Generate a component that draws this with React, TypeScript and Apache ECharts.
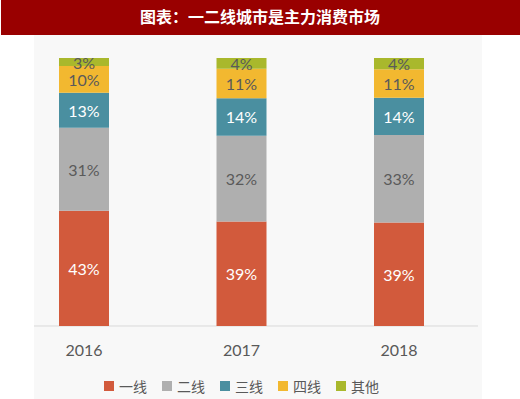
import React, { useEffect, useRef } from "react";
import * as echarts from "echarts";

const title = "图表：一二线城市是主力消费市场";
const years = ["2016", "2017", "2018"];
const seriesNames = ["一线", "二线", "三线", "四线", "其他"];
const tier1 = [43, 39, 38.6];
const tier2 = [31, 32, 32.7];
const tier3 = [13, 14, 13.9];
const tier4 = [10, 11, 10.6];
const others = [3, 4, 4.2];
const seriesValues = [tier1, tier2, tier3, tier4, others];
const colors = ["#D25A3C", "#AFAFAF", "#4A8FA0", "#F2B830", "#A9B82C"];
const labelColors = ["#ffffff", "#5a5a5a", "#ffffff", "#5a5a5a", "#5a5a5a"];

export default function App() {
  const ref = useRef<HTMLDivElement>(null);
  useEffect(() => {
    if (!ref.current) return;
    const chart = echarts.init(ref.current, undefined, { renderer: "svg" });
    chart.setOption({
      animation: false,
      backgroundColor: "#ffffff",
      graphic: [
        { type: "rect", left: 34, top: 35, shape: { width: 448, height: 364 }, style: { fill: "#f8f8f8" }, z: -10 },
        { type: "rect", left: 1, top: 0, shape: { width: 519, height: 35 }, style: { fill: "#990000" }, z: -5 },
        {
          type: "text",
          left: "center",
          top: 8,
          style: {
            text: title,
            fill: "#ffffff",
            font: "bold 16px 'Noto Sans CJK SC'",
          },
        },
        {
          type: "line",
          shape: { x1: 34, y1: 326, x2: 478, y2: 326 },
          style: { stroke: "#d9d9d9", lineWidth: 1 },
        },
      ],
      grid: { left: 5.25, width: 472.5, top: 58, bottom: 73, containLabel: false },
      xAxis: {
        type: "category",
        data: years,
        axisLine: { show: false },
        axisTick: { show: false },
        axisLabel: { color: "#595959", fontSize: 16, fontFamily: "Lato", margin: 15 },
      },
      yAxis: { type: "value", min: 0, max: 100, show: false, splitLine: { show: false } },
      legend: {
        data: seriesNames,
        left: 104,
        top: 377,
        padding: 0,
        itemWidth: 10,
        itemHeight: 10,
        itemGap: 15,
        icon: "rect",
        textStyle: { color: "#595959", fontSize: 14, lineHeight: 18, fontFamily: "'Noto Sans CJK SC'" },
      },
      series: seriesNames.map((name, i) => ({
        name,
        type: "bar",
        stack: "total",
        barWidth: 50,
        data: seriesValues[i],
        itemStyle: { color: colors[i] },
        label: {
          show: true,
          position: "inside",
          formatter: (p: any) => Math.round(p.value) + "%",
          color: labelColors[i],
          fontSize: 16,
          fontFamily: "Lato",
        },
      })),
    });
    return () => chart.dispose();
  }, []);
  return <div ref={ref} style={{ width: 520, height: 399, position: "absolute", left: 0, top: 0 }} />;
}
